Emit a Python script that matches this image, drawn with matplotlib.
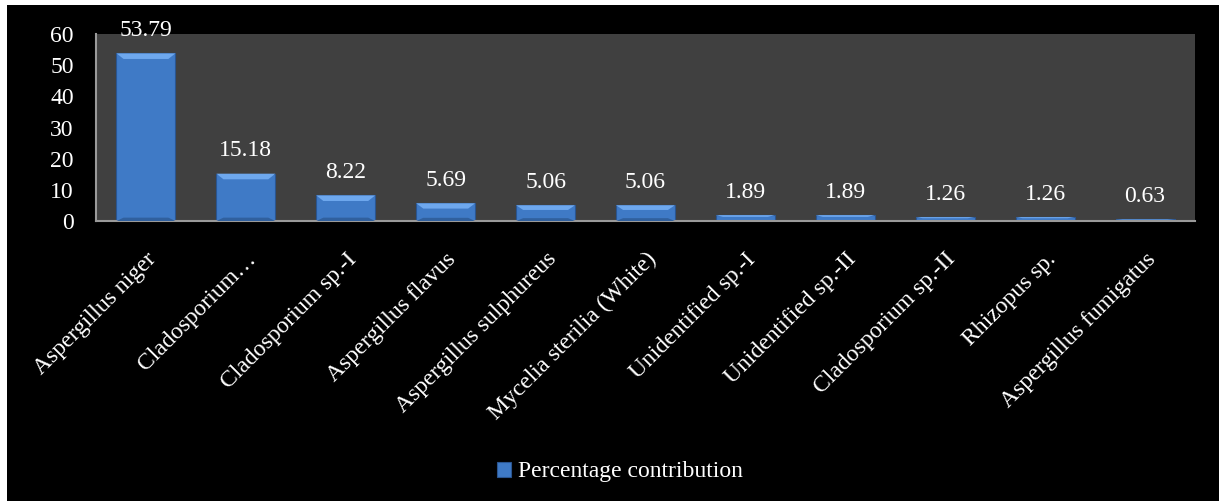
import matplotlib
matplotlib.use("Agg")
import matplotlib.pyplot as plt
from matplotlib.patches import Polygon, Rectangle
import numpy as np

categories = [
    "Aspergillus niger", "Cladosporium…", "Cladosporium sp.-I", "Aspergillus flavus",
    "Aspergillus sulphureus", "Mycelia sterilia (White)", "Unidentified sp.-I",
    "Unidentified sp.-II", "Cladosporium sp.-II", "Rhizopus sp.", "Aspergillus fumigatus",
]
values = [53.79, 15.18, 8.22, 5.69, 5.06, 5.06, 1.89, 1.89, 1.26, 1.26, 0.63]
yticks = [0, 10, 20, 30, 40, 50, 60]

plt.rcParams["font.family"] = ["Liberation Serif", "DejaVu Serif"]

fig = plt.figure(figsize=(12.19, 5.01), dpi=100, facecolor="white")
# black chart area inside thin white border
fig.patches.append(Rectangle((7 / 1219, 0), 1 - 7 / 1219, 1 - 5 / 501,
                             transform=fig.transFigure, facecolor="black",
                             edgecolor="none", zorder=-10))

ax = fig.add_axes([96 / 1219, 1 - 221 / 501, (1195 - 96) / 1219, (221 - 34) / 501])
ax.set_facecolor("#404040")

x = np.arange(len(values))
width = 0.59
bars = ax.bar(x, values, width=width, color="#3f7ac6", edgecolor="#2a5590",
              linewidth=0.8, zorder=2)

# bevel look: lighter top band and darker bottom band with slanted corners
for xi, v in zip(x, values):
    b = min(v * 0.3, 1.8)
    dx = width * 0.12
    top = Polygon([(xi - width / 2, v), (xi + width / 2, v),
                   (xi + width / 2 - dx, v - b), (xi - width / 2 + dx, v - b)],
                  closed=True, facecolor="#6ea8ee", edgecolor="none", zorder=3)
    ax.add_patch(top)
    if v > 3:
        bot = Polygon([(xi - width / 2, 0), (xi + width / 2, 0),
                       (xi + width / 2 - dx, b * 0.6), (xi - width / 2 + dx, b * 0.6)],
                      closed=True, facecolor="#30609e", edgecolor="none", zorder=3)
        ax.add_patch(bot)

for xi, v in zip(x, values):
    ax.annotate(f"{v:.2f}", (xi, v), xytext=(0, 9), textcoords="offset points",
                ha="center", va="bottom", color="white", fontsize=17)

ax.set_xlim(-0.5, len(values) - 0.5)
ax.set_ylim(0, 60)
ax.set_yticks(yticks)
ax.set_yticklabels([str(t) for t in yticks], color="white", fontsize=17)
ax.set_xticks(x)
ax.set_xticklabels(categories, rotation=45, ha="right", rotation_mode="anchor",
                   color="white", fontsize=17)
ax.tick_params(axis="y", length=0, pad=16)
ax.tick_params(axis="x", length=0, pad=20)
for side in ["top", "right"]:
    ax.spines[side].set_visible(False)
for side in ["left", "bottom"]:
    ax.spines[side].set_color("#9a9a9a")
    ax.spines[side].set_linewidth(1.5)

leg = fig.legend([bars[0]], ["Percentage contribution"], loc="center",
                 bbox_to_anchor=(620 / 1219, 1 - 472 / 501), frameon=False,
                 fontsize=17, handlelength=0.6, handleheight=0.6, handletextpad=0.3)
for t in leg.get_texts():
    t.set_color("white")

fig.savefig("out.png", dpi=100, facecolor="white")
